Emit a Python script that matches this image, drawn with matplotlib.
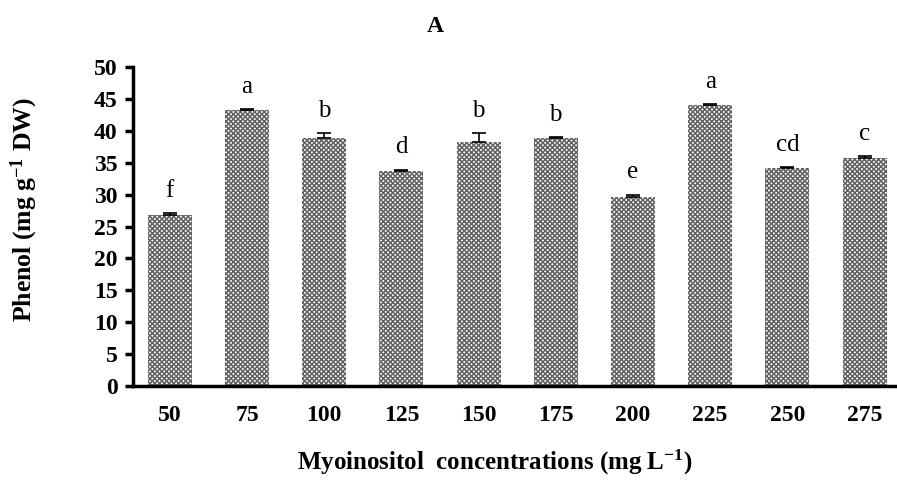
import matplotlib.pyplot as plt

plt.rcParams['font.family'] = ['Liberation Serif', 'DejaVu Serif']
plt.rcParams['mathtext.fontset'] = 'custom'
plt.rcParams['mathtext.rm'] = 'Liberation Serif'
plt.rcParams['mathtext.bf'] = 'Liberation Serif:bold'
plt.rcParams['mathtext.default'] = 'bf'
plt.rcParams['hatch.linewidth'] = 1.1
plt.rcParams['hatch.color'] = '#626262'

concentrations = ["50", "75", "100", "125", "150", "175", "200", "225", "250", "275"]
phenol = [26.8, 43.2, 38.8, 33.7, 38.3, 38.8, 29.7, 44.0, 34.1, 35.7]
errors = [0.3, 0.2, 0.8, 0.2, 1.3, 0.2, 0.3, 0.2, 0.2, 0.3]
letters = ["f", "a", "b", "d", "b", "b", "e", "a", "cd", "c"]

fig = plt.figure(figsize=(8.97, 4.84), dpi=100)
ax = fig.add_axes([0.148, 0.2025, 0.852, 0.659])

x = list(range(len(concentrations)))
ax.bar(x, phenol, width=0.57, color='white', edgecolor='#626262',
       hatch='xxxxxxx', linewidth=0)
ax.errorbar(x, phenol, yerr=[[0] * len(errors), errors], fmt='none',
            ecolor='black', elinewidth=1.2, capsize=5, capthick=1.2)

# significance letters above each bar
for xi, v, e, lab in zip(x, phenol, errors, letters):
    ax.text(xi, v + e + 1.8, lab, ha='center', va='bottom', fontsize=18)

ax.set_xlim(-0.48, 9.42)
ax.set_ylim(0, 50)
ax.set_yticks(range(0, 51, 5))
ax.set_xticks(x)
ax.set_xticklabels(concentrations)

for side in ['top', 'right']:
    ax.spines[side].set_visible(False)
for side in ['left', 'bottom']:
    ax.spines[side].set_linewidth(2.5)

ax.tick_params(axis='y', direction='out', length=6, width=2.5, labelsize=17, pad=5)
ax.tick_params(axis='x', length=0, labelsize=17, pad=14)
for lab in ax.get_xticklabels() + ax.get_yticklabels():
    lab.set_fontweight('bold')

fig.text(0.027, 0.566, r'Phenol (mg g$^{-1}$ DW)', rotation=90, ha='center', va='center',
         fontsize=18.5, fontweight='bold')
fig.text(0.552, 0.045, r'Myoinositol  concentrations (mg L$^{-1}$)', ha='center', va='center',
         fontsize=18, fontweight='bold')
fig.text(0.485, 0.945, 'A', ha='center', va='center', fontsize=17, fontweight='bold')

fig.savefig('out.png', dpi=100)
